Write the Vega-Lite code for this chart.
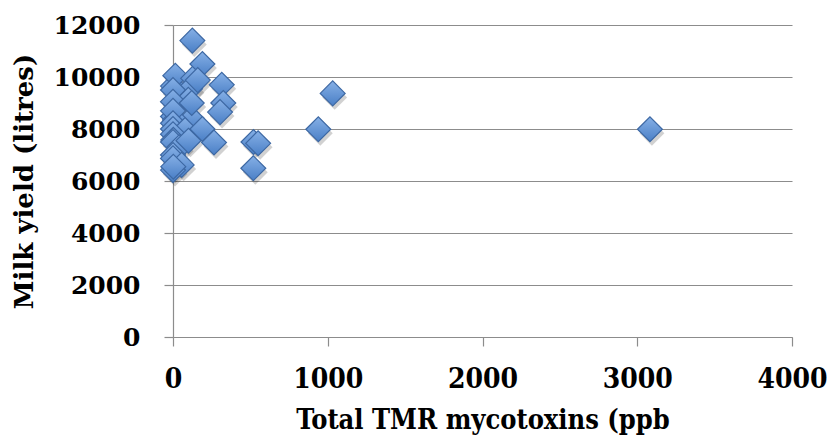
{
  "$schema": "https://vega.github.io/schema/vega-lite/v6.json",
  "width": 619,
  "height": 312,
  "autosize": "none",
  "padding": {"left": 173, "top": 25, "right": 40, "bottom": 99},
  "background": "white",
  "config": {
    "view": {"stroke": null},
    "font": "DejaVu Serif",
    "axis": {
      "labelFont": "DejaVu Serif",
      "labelFontWeight": "bold",
      "labelFontSize": 25,
      "labelColor": "#000000",
      "titleFont": "DejaVu Serif",
      "titleFontWeight": "bold",
      "titleFontSize": 26,
      "titleColor": "#000000",
      "domainColor": "#8c8c8c",
      "tickColor": "#8c8c8c",
      "gridColor": "#8c8c8c",
      "domainWidth": 1.2,
      "tickWidth": 1.2,
      "gridWidth": 1.2
    }
  },
  "data": {
    "values": [
      {"toxins": 0, "milk": 9650},
      {"toxins": 15, "milk": 10050},
      {"toxins": 130, "milk": 9950},
      {"toxins": 110, "milk": 9550},
      {"toxins": 0, "milk": 9500},
      {"toxins": 99, "milk": 9120},
      {"toxins": 0, "milk": 9050},
      {"toxins": 0, "milk": 8480},
      {"toxins": 120, "milk": 8410},
      {"toxins": 13, "milk": 8350},
      {"toxins": 0, "milk": 8700},
      {"toxins": 0, "milk": 8220},
      {"toxins": 0, "milk": 8000},
      {"toxins": 78, "milk": 7960},
      {"toxins": 0, "milk": 7800},
      {"toxins": 2, "milk": 7580},
      {"toxins": 0, "milk": 7500},
      {"toxins": 40, "milk": 7300},
      {"toxins": 0, "milk": 7000},
      {"toxins": 0, "milk": 6870},
      {"toxins": 56, "milk": 6620},
      {"toxins": 0, "milk": 6420},
      {"toxins": 2, "milk": 6550},
      {"toxins": 125, "milk": 11400},
      {"toxins": 190, "milk": 10500},
      {"toxins": 160, "milk": 9880},
      {"toxins": 121, "milk": 9000},
      {"toxins": 190, "milk": 8000},
      {"toxins": 265, "milk": 7480},
      {"toxins": 315, "milk": 9700},
      {"toxins": 325, "milk": 9000},
      {"toxins": 304, "milk": 8650},
      {"toxins": 100, "milk": 7550},
      {"toxins": 520, "milk": 7500},
      {"toxins": 550, "milk": 7450},
      {"toxins": 519, "milk": 6490},
      {"toxins": 939, "milk": 7990},
      {"toxins": 1032, "milk": 9370},
      {"toxins": 3082, "milk": 7990}
    ]
  },
  "encoding": {
    "x": {
      "field": "toxins",
      "type": "quantitative",
      "title": "Total TMR mycotoxins (ppb",
      "scale": {"domain": [0, 4000], "nice": false, "zero": true},
      "axis": {
        "values": [0, 1000, 2000, 3000, 4000],
        "format": "d",
        "grid": false,
        "tickSize": 9,
        "labelFont": "DejaVu Serif Condensed",
        "labelFontSize": 28,
        "labelPadding": 19,
        "titleFont": "DejaVu Serif Condensed",
        "titleFontSize": 27,
        "titlePadding": 14,
        "labelFlush": false
      }
    },
    "y": {
      "field": "milk",
      "type": "quantitative",
      "title": "Milk yield (litres)",
      "scale": {"domain": [0, 12000], "nice": false},
      "axis": {
        "values": [0, 2000, 4000, 6000, 8000, 10000, 12000],
        "format": "d",
        "grid": true,
        "tickSize": 9,
        "labelPadding": 24,
        "titlePadding": 16,
        "labelFlush": false
      }
    }
  },
  "layer": [
    {
      "mark": {
        "type": "point",
        "shape": "diamond",
        "size": 620,
        "filled": true,
        "color": "#000000",
        "opacity": 0.18,
        "strokeWidth": 0,
        "xOffset": 2,
        "yOffset": 4
      }
    },
    {
      "mark": {
        "type": "point",
        "shape": "diamond",
        "size": 620,
        "filled": true,
        "opacity": 1,
        "fill": {
          "gradient": "linear",
          "x1": 0, "y1": 0, "x2": 0, "y2": 1,
          "stops": [
            {"offset": 0, "color": "#86b0e6"},
            {"offset": 1, "color": "#4a7fc6"}
          ]
        },
        "stroke": "#3d68a3",
        "strokeWidth": 1.2
      }
    }
  ]
}
